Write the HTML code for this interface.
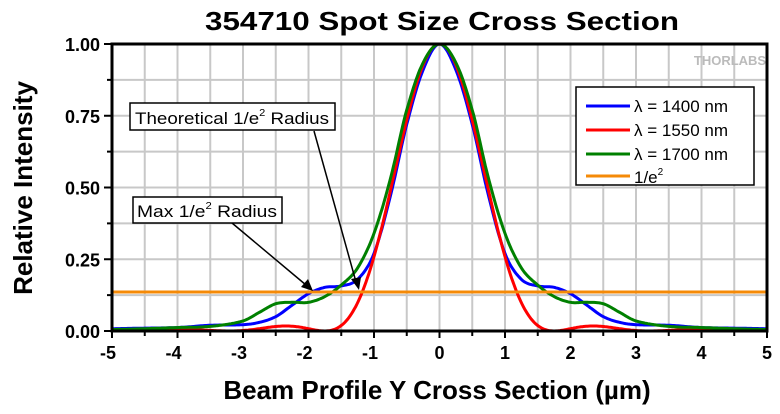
<!DOCTYPE html>
<html><head><meta charset="utf-8"><style>
body{margin:0;background:#fff;}
svg{display:block;font-family:"Liberation Sans",Arial,sans-serif;}
</style></head><body>
<svg id="s" width="780" height="414" viewBox="0 0 780 414" xmlns="http://www.w3.org/2000/svg">
<rect width="780" height="414" fill="#fff"/>
<g id="grid" stroke="#c8c8c8" stroke-width="2"></g>
<text x="442" y="30" font-size="26" font-weight="bold" text-anchor="middle" textLength="474" lengthAdjust="spacingAndGlyphs">354710 Spot Size Cross Section</text>
<text x="730" y="65" font-size="13" font-weight="bold" fill="#bbb" text-anchor="middle">THORLABS</text>
<g id="curves" fill="none" stroke-width="3"></g>
<line x1="112" y1="292" x2="767" y2="292" stroke="#f58a07" stroke-width="3"/>
<rect x="112" y="44" width="655" height="287" fill="none" stroke="#000" stroke-width="3"/>
<g id="ticks" stroke="#000" stroke-width="2"></g>
<g id="labels" font-size="18" font-weight="bold"></g>
<text x="437" y="399" font-size="26" font-weight="bold" text-anchor="middle">Beam Profile Y Cross Section (µm)</text>
<text transform="translate(32,188) rotate(-90)" font-size="26" font-weight="bold" text-anchor="middle">Relative Intensity</text>
<rect x="130" y="103" width="205" height="27" fill="#fff" stroke="#000" stroke-width="1.5"/>
<text x="135" y="124" font-size="17" textLength="194" lengthAdjust="spacingAndGlyphs">Theoretical 1/e<tspan font-size="10" dy="-8">2</tspan><tspan dy="8"> Radius</tspan></text>
<rect x="133" y="197" width="149" height="26" fill="#fff" stroke="#000" stroke-width="1.5"/>
<text x="137" y="217" font-size="17" textLength="140" lengthAdjust="spacingAndGlyphs">Max 1/e<tspan font-size="10" dy="-8">2</tspan><tspan dy="8"> Radius</tspan></text>
<line x1="314" y1="131" x2="356" y2="282" stroke="#000" stroke-width="1.5"/>
<polygon points="359,290 351,279 361,277" fill="#000"/>
<line x1="232" y1="223" x2="306" y2="285" stroke="#000" stroke-width="1.5"/>
<polygon points="313,291 301,287 308,279" fill="#000"/>
<rect x="576" y="87" width="178" height="98" fill="#fff" stroke="#000" stroke-width="1.5"/>
<line x1="586" y1="106" x2="630" y2="106" stroke="#0000ff" stroke-width="3"/>
<line x1="586" y1="130" x2="630" y2="130" stroke="#ff0000" stroke-width="3"/>
<line x1="586" y1="154" x2="630" y2="154" stroke="#008000" stroke-width="3"/>
<line x1="586" y1="176" x2="630" y2="176" stroke="#f58a07" stroke-width="3"/>
<g font-size="17">
<text x="634" y="112">λ = 1400 nm</text>
<text x="634" y="136">λ = 1550 nm</text>
<text x="634" y="160">λ = 1700 nm</text>
<text x="634" y="183">1/e<tspan font-size="10" dy="-8">2</tspan></text>
</g>
</svg>
<script>
var NS="http://www.w3.org/2000/svg";
function X(v){return 112+65.5*(v+5);}
function Y(v){return 331-287*v;}
function el(p,t,a){var e=document.createElementNS(NS,t);for(var k in a)e.setAttribute(k,a[k]);document.getElementById(p).appendChild(e);return e;}
for(var i=-4.5;i<=4.5;i+=0.5)el("grid","line",{x1:X(i),y1:44,x2:X(i),y2:331});
for(var j=1;j<8;j++){var v=j*0.125;el("grid","line",{x1:112,y1:Y(v),x2:767,y2:Y(v)});}
for(var i=-5;i<=5;i+=0.5){var maj=Math.abs(i-Math.round(i))<1e-6;el("ticks","line",{x1:X(i),y1:331,x2:X(i),y2:maj?338:336});
 if(maj){var t=el("labels","text",{x:X(i)-(i<0?4:0),y:359,"text-anchor":"middle"});t.textContent=String(i);}}
for(var j=0;j<=8;j++){var v=j*0.125;var maj=j%2==0;el("ticks","line",{x1:maj?104:107,y1:Y(v),x2:112,y2:Y(v)});
 if(maj){var t=el("labels","text",{x:100,y:Y(v)+7,"text-anchor":"end"});t.textContent=v.toFixed(2);}}
function J1(x){var s=0,term=x/2,k=0;for(k=0;k<40;k++){s+=term;term*=-(x*x/4)/((k+1)*(k+2));}return s;}
function airy(x){var v=2.19*Math.abs(x);if(v<1e-6)return 1;var a=2*J1(v)/v;return a*a;}
function interp(pts,x){x=Math.abs(x);for(var i=0;i<pts.length-1;i++){if(x<=pts[i+1][0]){
 var p0=pts[Math.max(0,i-1)],p1=pts[i],p2=pts[i+1],p3=pts[Math.min(pts.length-1,i+2)];
 var t=(x-p1[0])/(p2[0]-p1[0]);var m1=(p2[1]-p0[1])/(p2[0]-p0[0]||1)*(p2[0]-p1[0]);var m2=(p3[1]-p1[1])/(p3[0]-p1[0]||1)*(p2[0]-p1[0]);
 if(i==0)m1=0;var t2=t*t,t3=t2*t;return (2*t3-3*t2+1)*p1[1]+(t3-2*t2+t)*m1+(-2*t3+3*t2)*p2[1]+(t3-t2)*m2;}}return pts[pts.length-1][1];}
var blue=[[0,1],[0.25,0.91],[0.5,0.72],[0.75,0.47],[1,0.27],[1.25,0.18],[1.5,0.157],[1.75,0.152],[2,0.13],[2.25,0.09],[2.5,0.05],[2.75,0.03],[3,0.022],[3.5,0.02],[4,0.012],[4.5,0.01],[5,0.008]];
var green=[[0,1],[0.25,0.935],[0.5,0.77],[0.75,0.53],[1,0.34],[1.25,0.22],[1.5,0.16],[1.75,0.12],[2,0.10],[2.25,0.1],[2.5,0.095],[2.75,0.065],[3,0.035],[3.5,0.016],[4,0.012],[4.5,0.008],[5,0.005]];
function path(f,c){var d="";for(var x=-5;x<=5.0001;x+=0.02){d+=(d?"L":"M")+X(x).toFixed(1)+","+Y(f(x)).toFixed(1);}el("curves","path",{d:d,stroke:c});}
path(function(x){return interp(blue,x);},"#0000ff");
path(function(x){return airy(x);},"#ff0000");
path(function(x){return interp(green,x);},"#008000");
</script>
</body></html>
